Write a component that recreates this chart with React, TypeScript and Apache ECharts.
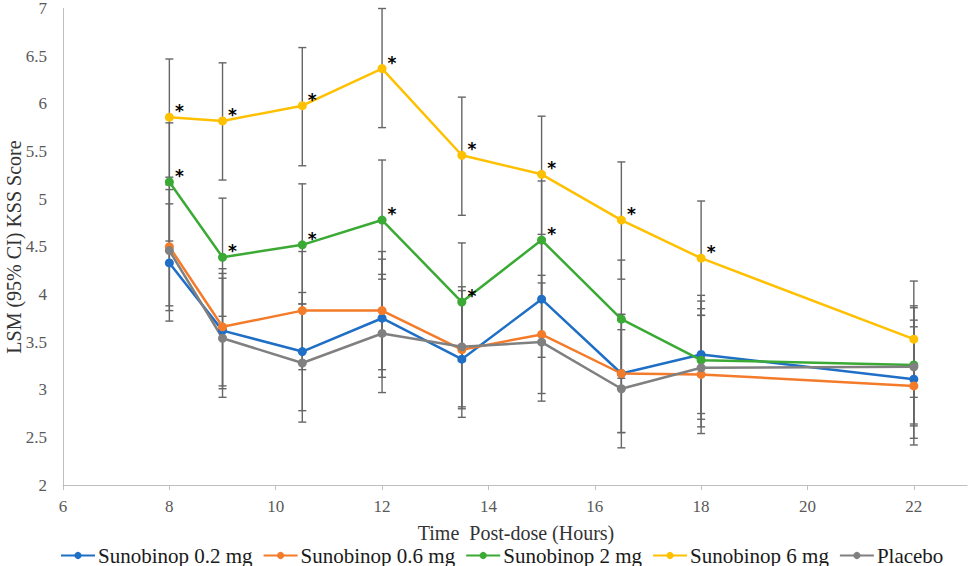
import React, { useEffect, useRef } from "react";
import * as echarts from "echarts";

const hours = [8, 9, 10.5, 12, 13.5, 15, 16.5, 18, 22];
const xTicks = [6, 8, 10, 12, 14, 16, 18, 20, 22];

const seriesNames = ["Sunobinop 0.2 mg", "Sunobinop 0.6 mg", "Sunobinop 2 mg", "Sunobinop 6 mg", "Placebo"];
const seriesColors = ["#1f6fc6", "#f47b2a", "#3aaa35", "#ffc000", "#808080"];

const mean02 = [4.33, 3.62, 3.40, 3.75, 3.32, 3.95, 3.17, 3.37, 3.11];
const low02 = [3.72, 3.01, 2.78, 3.13, 2.71, 3.34, 2.55, 2.75, 2.49];
const high02 = [4.95, 4.22, 4.02, 4.37, 3.93, 4.57, 3.79, 3.99, 3.73];

const mean06 = [4.50, 3.66, 3.83, 3.83, 3.42, 3.58, 3.17, 3.16, 3.04];
const low06 = [3.88, 3.04, 3.21, 3.21, 2.80, 2.96, 2.55, 2.54, 2.42];
const high06 = [5.15, 4.27, 4.45, 4.45, 4.04, 4.20, 3.79, 3.78, 3.66];

const mean2 = [5.18, 4.39, 4.52, 4.78, 3.92, 4.57, 3.74, 3.31, 3.26];
const low2 = [4.56, 3.77, 3.90, 4.16, 3.30, 3.95, 3.12, 2.69, 2.64];
const high2 = [5.80, 5.01, 5.16, 5.41, 4.54, 5.19, 4.36, 3.93, 3.88];

const mean6 = [5.86, 5.82, 5.98, 6.37, 5.46, 5.26, 4.78, 4.38, 3.53];
const low6 = [5.23, 5.20, 5.35, 5.75, 4.83, 4.63, 4.16, 3.78, 2.92];
const high6 = [6.47, 6.43, 6.59, 7.00, 6.07, 5.87, 5.39, 4.98, 4.14];

const meanPlacebo = [4.46, 3.54, 3.28, 3.59, 3.45, 3.50, 3.01, 3.23, 3.24];
const lowPlacebo = [3.83, 2.92, 2.66, 2.97, 2.82, 2.88, 2.39, 2.61, 2.62];
const highPlacebo = [5.10, 4.17, 3.90, 4.21, 4.08, 4.12, 3.63, 3.85, 3.86];

const sig02 = [0, 0, 0, 0, 0, 0, 0, 0, 0];
const sig06 = [0, 0, 0, 0, 0, 0, 0, 0, 0];
const sig2 = [1, 1, 1, 1, 1, 1, 0, 0, 0];
const sig6 = [1, 1, 1, 1, 1, 1, 1, 1, 0];
const sigPlacebo = [0, 0, 0, 0, 0, 0, 0, 0, 0];

const means = [mean02, mean06, mean2, mean6, meanPlacebo];
const lows = [low02, low06, low2, low6, lowPlacebo];
const highs = [high02, high06, high2, high6, highPlacebo];
const sigs = [sig02, sig06, sig2, sig6, sigPlacebo];

const FONT = "'Liberation Serif', 'Times New Roman', serif";

export default function App() {
  const ref = useRef<HTMLDivElement>(null);

  useEffect(() => {
    if (!ref.current) return;
    const chart = echarts.init(ref.current, undefined, { renderer: "svg" });

    const errData: number[][] = [];
    means.forEach((_, s) => {
      hours.forEach((h, i) => {
        errData.push([h, lows[s][i], highs[s][i]]);
      });
    });

    const lineSeries = seriesNames.map((name, s) => ({
      type: "line",
      name,
      z: 3,
      symbol: "circle",
      symbolSize: 9,
      color: seriesColors[s],
      lineStyle: { width: 2.5, color: seriesColors[s] },
      itemStyle: { color: seriesColors[s] },
      data: hours.map((h, i) => ({
        value: [h, means[s][i]],
        label: {
          show: !!sigs[s][i],
          formatter: "*",
          position: "inside",
          offset: [10, -6],
          color: "#000",
          fontSize: 17,
          fontWeight: "bold",
          fontFamily: "DejaVu Sans",
        },
      })),
    }));

    chart.setOption({
      animation: false,
      backgroundColor: "#ffffff",
      grid: { left: 63, right: 2, top: 8, bottom: 81, containLabel: false },
      xAxis: {
        type: "value",
        min: 6,
        max: 23,
        axisLine: { show: true, lineStyle: { color: "#bfbfbf", width: 1 } },
        axisTick: { show: true, length: 5, customValues: xTicks, lineStyle: { color: "#bfbfbf" } },
        axisLabel: {
          customValues: xTicks,
          color: "#595959",
          fontSize: 17,
          fontFamily: FONT,
          margin: 13,
        },
        splitLine: { show: false },
      },
      yAxis: {
        type: "value",
        min: 2,
        max: 7,
        interval: 0.5,
        axisLine: { show: true, lineStyle: { color: "#bfbfbf", width: 1 } },
        axisTick: { show: false },
        axisLabel: { color: "#595959", fontSize: 17, fontFamily: FONT, margin: 16 },
        splitLine: { show: false },
      },
      legend: {
        left: 55,
        top: 540,
        itemWidth: 34,
        itemHeight: 9,
        itemGap: 10,
        data: seriesNames,
        textStyle: {
          color: "#1a1a1a",
          fontSize: 21,
          lineHeight: 21,
          fontFamily: FONT,
          padding: [0, 0, 0, -2],
        },
      },
      graphic: [
        {
          type: "text",
          x: 516,
          y: 533,
          style: {
            text: "Time  Post-dose (Hours)",
            fill: "#333",
            font: `20px ${FONT}`,
            textAlign: "center",
            textVerticalAlign: "middle",
          },
        },
        {
          type: "text",
          x: 14,
          y: 247,
          rotation: Math.PI / 2,
          style: {
            text: "LSM (95% CI) KSS Score",
            fill: "#333",
            font: `20px ${FONT}`,
            textAlign: "center",
            textVerticalAlign: "middle",
          },
        },
      ],
      series: [
        {
          type: "custom",
          z: 1,
          silent: true,
          encode: { x: 0, y: [1, 2] },
          data: errData,
          renderItem: (params: any, api: any) => {
            const x = api.value(0);
            const pLo = api.coord([x, api.value(1)]);
            const pHi = api.coord([x, api.value(2)]);
            const style = { stroke: "#666666", lineWidth: 1.4 };
            return {
              type: "group",
              children: [
                { type: "line", shape: { x1: pLo[0], y1: pLo[1], x2: pHi[0], y2: pHi[1] }, style },
                { type: "line", shape: { x1: pLo[0] - 4, y1: pLo[1], x2: pLo[0] + 4, y2: pLo[1] }, style },
                { type: "line", shape: { x1: pHi[0] - 4, y1: pHi[1], x2: pHi[0] + 4, y2: pHi[1] }, style },
              ],
            };
          },
        },
        ...lineSeries,
      ],
    });

    return () => chart.dispose();
  }, []);

  return (
    <div
      ref={ref}
      style={{ position: "fixed", left: 0, top: 0, width: 969, height: 566, background: "#fff" }}
    />
  );
}
